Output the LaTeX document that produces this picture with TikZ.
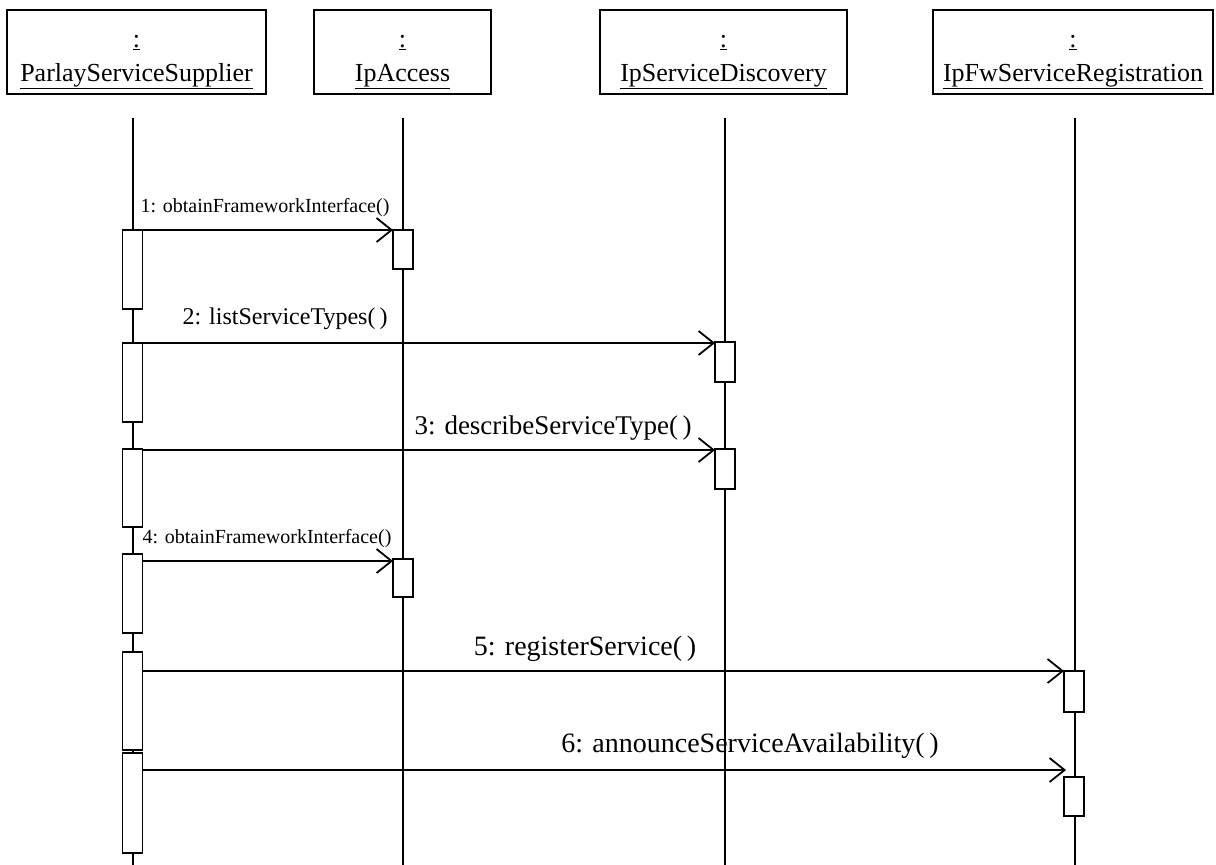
\documentclass[tikz,border=0pt]{standalone}
\usepackage{fontspec}
\setmainfont{Liberation Serif}
\usetikzlibrary{arrows.meta}
\tikzset{
  objbox/.style={draw, line width=1.4pt, minimum height=84pt, inner sep=0pt},
  objtxt/.style={align=center, font=\fontsize{26}{30}\selectfont, inner sep=0pt},
  life/.style={line width=1.2pt},
  actbox/.style={draw, fill=white, line width=1.2pt, minimum width=20pt, inner sep=0pt, outer sep=0pt},
  msg/.style={line width=1.8pt, -{Straight Barb[length=15pt,width=24pt,line width=1.8pt]}},
  biglbl/.style={font=\fontsize{28}{32}\selectfont, inner sep=0pt, anchor=base},
  midlbl/.style={font=\fontsize{24}{28}\selectfont, inner sep=0pt, anchor=base},
  smalllbl/.style={font=\fontsize{20}{24}\selectfont, inner sep=0pt, anchor=base},
}
\begin{document}
\begin{tikzpicture}[x=1pt,y=-1pt]
\useasboundingbox (0,0) rectangle (1216,865);
% object boxes
\node[objbox, minimum width=259pt] (b1) at (136.5,52) {};
\node[objbox, minimum width=177pt] (b2) at (402.5,52) {};
\node[objbox, minimum width=247pt] (b3) at (723.5,52) {};
\node[objbox, minimum width=280pt] (b4) at (1073,52) {};
\node[objtxt] (t1) at ([yshift=-10pt]b1.center) {\underline{:}\\[4pt]\underline{ParlayServiceSupplier}};
\node[objtxt] (t2) at ([yshift=-10pt]b2.center) {\underline{:}\\[4pt]\underline{IpAccess}};
\node[objtxt] (t3) at ([yshift=-10pt]b3.center) {\underline{:}\\[4pt]\underline{IpServiceDiscovery}};
\node[objtxt] (t4) at ([yshift=-10pt]b4.center) {\underline{:}\\[4pt]\underline{IpFwServiceRegistration}};
% lifelines
\coordinate (l1t) at (133,118); \coordinate (l1b) at (133,865);
\coordinate (l2t) at (403,118); \coordinate (l2b) at (403,865);
\coordinate (l3t) at (725,118); \coordinate (l3b) at (725,865);
\coordinate (l4t) at (1075,118); \coordinate (l4b) at (1075,865);
\draw[life] (l1t) -- (l1b);
\draw[life] (l2t) -- (l2b);
\draw[life] (l3t) -- (l3b);
\draw[life] (l4t) -- (l4b);
% activations on ParlayServiceSupplier
\node[actbox, minimum height=79pt] (s1) at (132.5,269.5) {};
\node[actbox, minimum height=79pt] (s2) at (132.5,382.5) {};
\node[actbox, minimum height=78pt] (s3) at (132.5,488) {};
\node[actbox, minimum height=79pt] (s4) at (132.5,593.5) {};
\node[actbox, minimum height=98pt] (s5) at (132.5,701) {};
\node[actbox, minimum height=100pt] (s6) at (132.5,803) {};
% target activations
\node[actbox, minimum height=39pt] (r1) at (403,249.5) {};
\node[actbox, minimum height=40pt] (r2) at (725,362) {};
\node[actbox, minimum height=40pt] (r3) at (725,469) {};
\node[actbox, minimum height=38pt] (r4) at (403,578) {};
\node[actbox, minimum height=41pt] (r5) at (1074,691.5) {};
\node[actbox, minimum height=39pt] (r6) at (1074,796.5) {};
% messages
\coordinate (m1) at (r1.north west);
\draw[msg] (s1.east |- m1) -- (m1);
\coordinate (m2) at ([yshift=-1pt]r2.north west);
\draw[msg] (s2.east |- m2) -- (m2);
\coordinate (m3) at ([yshift=-1pt]r3.north west);
\draw[msg] (s3.east |- m3) -- (m3);
\coordinate (m4) at (393,561);
\draw[msg] (s4.east |- m4) -- (m4);
\coordinate (m5) at (r5.north west);
\draw[msg] (s5.east |- m5) -- (m5);
\coordinate (m6) at (1066,770);
\draw[msg] (s6.east |- m6) -- (m6);
% labels
\node[smalllbl] (lab1) at (265,212) {1: obtainFrameworkInterface()};
\node[midlbl] (lab2) at (285,324) {2: listServiceTypes(\,)};
\node[biglbl, font=\fontsize{27}{31}\selectfont] (lab3) at (553,434) {3: describeServiceType(\,)};
\node[smalllbl] (lab4) at (267,543) {4: obtainFrameworkInterface()};
\node[biglbl] (lab5) at (585,655) {5: registerService(\,)};
\node[biglbl] (lab6) at (750,752) {6: announceServiceAvailability(\,)};
\end{tikzpicture}
\end{document}
